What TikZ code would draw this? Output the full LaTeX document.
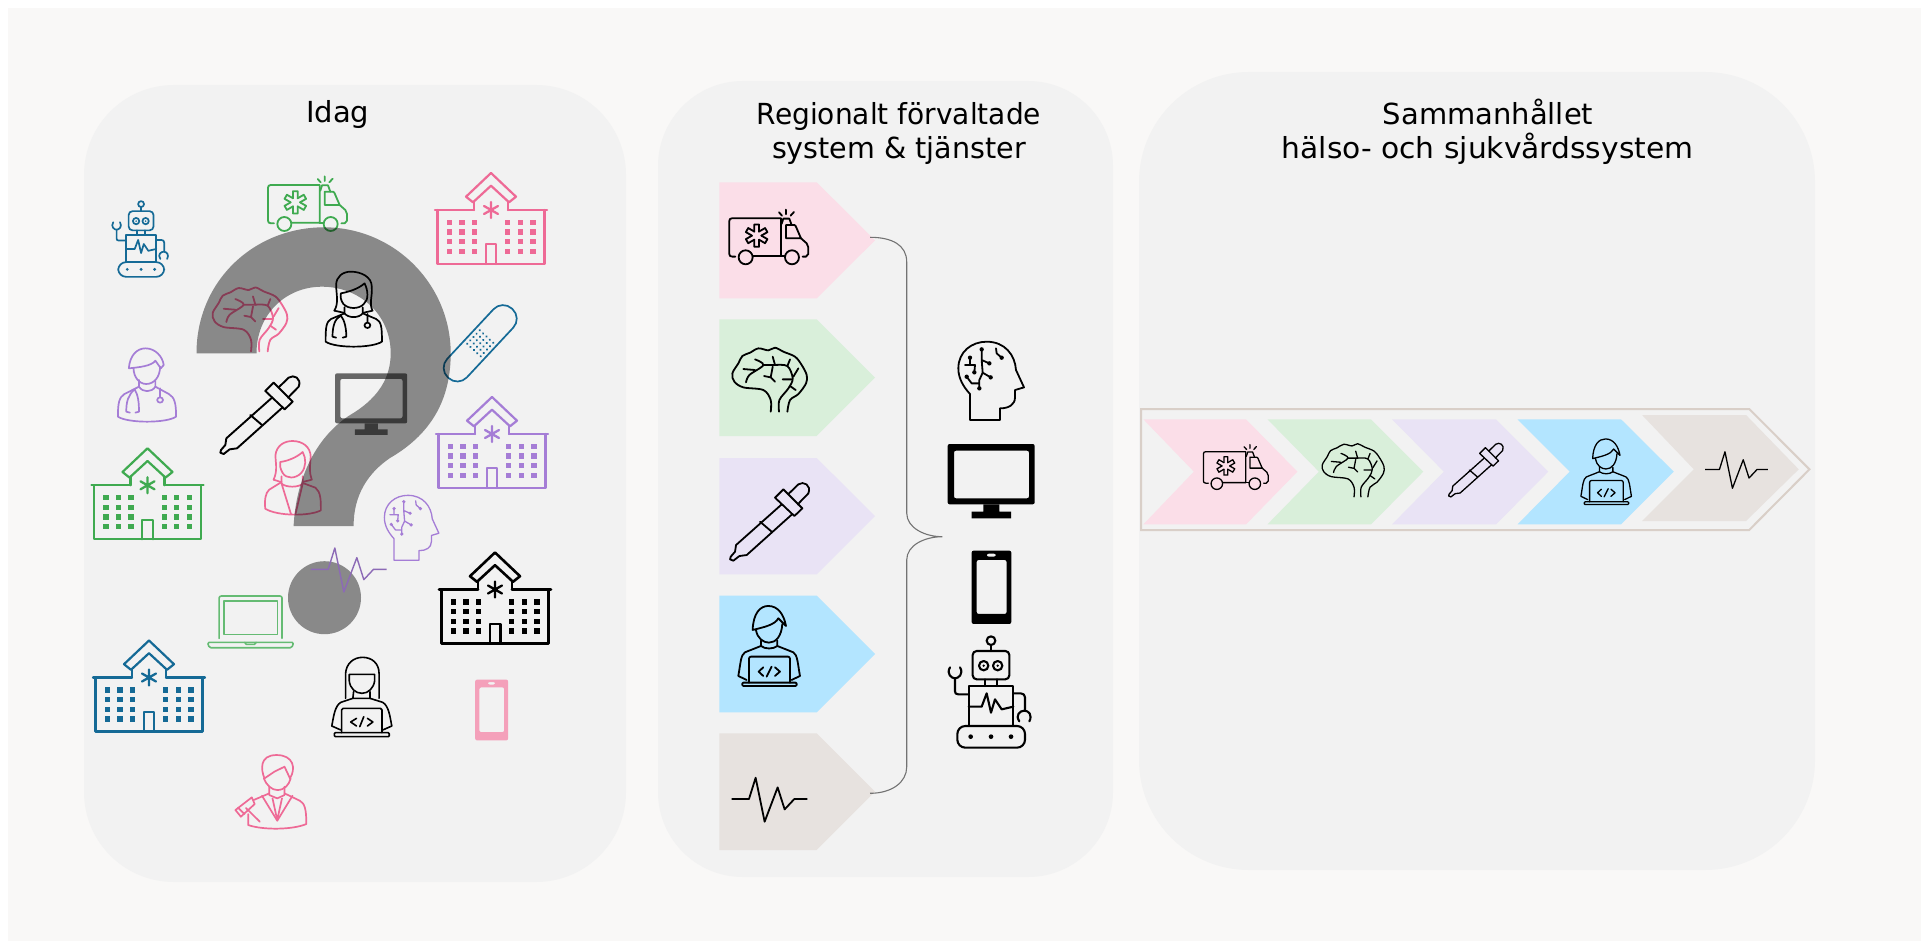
\documentclass[tikz,border=0pt]{standalone}
\usepackage{fontspec}
\setmainfont{DejaVu Sans}
\definecolor{pageBg}{HTML}{F9F8F7}
\definecolor{panelBg}{HTML}{F2F2F2}
\definecolor{cPink}{HTML}{EE6A96}
\definecolor{cGreen}{HTML}{3FAA50}
\definecolor{cPurple}{HTML}{A57DD6}
\definecolor{cBlue}{HTML}{156A96}
\definecolor{cPhone}{HTML}{F4A0BA}
\definecolor{chPink}{HTML}{FBDEE8}
\definecolor{chGreen}{HTML}{D9EFDA}
\definecolor{chPurple}{HTML}{E9E3F5}
\definecolor{chBlue}{HTML}{B3E5FF}
\definecolor{chGray}{HTML}{E7E2DF}
\definecolor{frameC}{HTML}{D9CFC8}
\tikzset{
  panel/.style={fill=panelBg,draw=none},
  title/.style={anchor=base,inner sep=0pt,font=\fontsize{29}{35}\selectfont,text=black},
}
% generic placer: body, cx, cy, xscale, yscale, colour, line width
\newcommand\placeicon[7]{%
  \begin{scope}[shift={(#2,#3)},xscale=#4,yscale=#5,color=#6,line width=#7pt,line join=round,line cap=round]#1\end{scope}}
\newcommand\threex[6]{\placeicon{#1}{#2}{#3}{#4/3}{#4/3}{#5}{#6}}
\newcommand\zoomx[6]{\placeicon{#1}{#2}{#3}{#4/2.75}{#4/3}{#5}{#6}}
\newcommand\starburst{%
  \foreach \a in {90,150,...,390}{\draw ({205-35+14*cos(\a-30)},{197-14*sin(\a-30)}) -- ({205-35+34*cos(\a-12)},{197-34*sin(\a-12)}) -- ({205-35+34*cos(\a+12)},{197-34*sin(\a+12)}) -- ({205-35+14*cos(\a+30)},{197-14*sin(\a+30)});}}
\newcommand\IcAmb{\begin{scope}[shift={(-205,-202)}]
  \draw (137,262) circle[radius=21];
  \draw (276,262) circle[radius=21];
  \draw (106,260) -- (97,260) .. controls (91,260) and (88,257) .. (88,252) -- (88,153) .. controls (88,148) and (91,145) .. (96,145) -- (243,145) -- (243,258) -- (160,258);
  \draw (243,258) -- (255,258);
  \draw (258,165) -- (258,205) -- (303,205) -- (287,168) -- (283,165) -- cycle;
  \draw (303,205) -- (320,220) -- (325,232) -- (325,252) -- (318,260) -- (308,260);
  \draw (245,162) -- (250,146) -- (268,146) -- (275,165);
  \draw (258,119) -- (258,133) (237,127) -- (246,137) (282,126) -- (272,137);
  \starburst
\end{scope}}
\newcommand\IcBrain{\begin{scope}[shift={(-209,-629)}]
  \draw plot[smooth,tension=.55] coordinates {(212,725) (212,690) (190,660) (130,652) (103,635) (97,610) (115,580) (127,558) (150,548) (175,535) (205,541) (225,533) (250,545) (285,560) (305,585) (320,615) (318,640) (295,672) (270,690) (262,725)};
  \draw plot[smooth,tension=.55] coordinates {(237,725) (238,690) (265,655) (278,625) (262,588) (225,585)};
  \draw plot[smooth,tension=.55] coordinates {(138,637) (148,615) (190,585) (165,568)};
  \draw (130,597) -- (165,600);
  \draw (190,585) -- (225,585) -- (218,560);
  \draw (262,588) -- (270,568) (192,618) -- (212,622) -- (225,635) (212,622) -- (218,590) (248,628) -- (275,628) (270,648) -- (287,660) (280,620) -- (295,595);
\end{scope}}
\newcommand\IcDrop{\begin{scope}[shift={(-209,-1055)}]
  \draw (225,983) -- (250,958) -- (307,1015) -- (283,1038) -- cycle;
  \draw (265,972) -- (295,943) .. controls (310,932) and (335,945) .. (325,970) -- (293,1003);
  \draw (245,1003) -- (108,1125) -- (105,1145) -- (92,1160) -- (90,1168) -- (100,1172) -- (118,1158) -- (140,1155) -- (277,1032);
  \draw (180,1055) -- (215,1085);
\end{scope}}
\newcommand\IcCoder{\begin{scope}[shift={(-208,-289)}]
  \draw (158,240) .. controls (160,190) and (180,168) .. (205,168) .. controls (235,168) and (252,195) .. (258,228) -- (235,205) .. controls (225,225) and (190,232) .. cycle;
  \draw (168,240) .. controls (172,265) and (190,278) .. (207,278) .. controls (228,278) and (245,258) .. (247,222);
  \draw (183,272) -- (183,288) .. controls (195,298) and (220,298) .. (232,288) -- (232,272);
  \draw (183,288) -- (135,307) .. controls (122,315) and (122,340) .. (115,378) -- (140,390);
  \draw (232,288) -- (280,307) .. controls (293,315) and (293,340) .. (300,378) -- (275,390);
  \draw[rounded corners=2pt] (147,398) -- (147,320) -- (270,320) -- (270,398);
  \draw[rounded corners=1pt] (127,398) rectangle (290,408);
  \draw (190,352) -- (176,365) -- (190,378) (225,352) -- (240,365) -- (225,378) (200,380) -- (215,350);
\end{scope}}
\newcommand\IcPulse{\begin{scope}[shift={(-208,-749)}]
  \draw[line cap=butt] (95,747) -- (147,747) -- (167,683) -- (194,815) -- (233,712) -- (254,778) -- (283,747) -- (322,747);
\end{scope}}
\newcommand\IcHead{\begin{scope}[shift={(-873,-632)}]
  \draw (810,750) -- (810,672) .. controls (790,650) and (775,625) .. (775,595) .. controls (775,545) and (815,515) .. (860,515) .. controls (915,515) and (945,555) .. (948,600) -- (972,652) -- (945,660) -- (945,682) .. controls (945,705) and (925,715) .. (900,715) -- (900,750) -- cycle;
  \draw (810,563) -- (810,585) (795,585) -- (825,585) -- (823,607) (845,538) -- (845,570) -- (868,580) (845,570) -- (848,608) -- (872,622) (848,608) -- (838,630) -- (838,655) (800,620) -- (815,640) -- (838,640) (888,535) -- (890,550) -- (905,563);
  \fill (810,563) circle[radius=6.5] (823,607) circle[radius=6.5] (845,538) circle[radius=6.5] (868,580) circle[radius=6.5] (872,622) circle[radius=6.5] (838,655) circle[radius=6.5] (800,620) circle[radius=6.5] (905,563) circle[radius=6.5];
\end{scope}}
\newcommand\IcMon{\begin{scope}[shift={(-873,-933)}]
  \fill[even odd rule,rounded corners=2pt] (743,822) rectangle (1004,1003) (762,842) rectangle (987,985);
  \fill (850,1003) rectangle (898,1025) (815,1025) rectangle (933,1045);
\end{scope}}
\newcommand\IcPhone{\begin{scope}[shift={(-874,-112)}]
  \fill[even odd rule] [rounded corners=2pt] (815,2) rectangle (934,222) (830,30) rectangle (920,192) (860,11) rectangle (888,20);
\end{scope}}
\newcommand\IcRobot{\begin{scope}[shift={(-870,-426)}]
  \draw (873,272) circle[radius=13];
  \draw (873,285) -- (873,303);
  \draw[rounded corners=4pt] (818,303) rectangle (928,388);
  \draw (851,347) circle[radius=14] (893,347) circle[radius=14];
  \fill (851,347) circle[radius=4] (893,347) circle[radius=4];
  \draw (855,388) -- (855,408) (890,388) -- (890,408);
  \draw (806,408) rectangle (940,528);
  \draw (806,470) -- (845,470) -- (860,430) -- (873,488) -- (885,448) -- (905,478) -- (940,470);
  \draw[rounded corners=8pt] (772,528) rectangle (975,593);
  \fill (812,560) circle[radius=7] (873,560) circle[radius=7] (933,560) circle[radius=7];
  \draw (806,433) -- (775,433) .. controls (768,433) and (765,430) .. (765,424) -- (765,385);
  \draw (750,352) .. controls (738,372) and (755,385) .. (765,385) .. controls (775,385) and (792,372) .. (780,352);
  \draw (940,430) -- (962,430) .. controls (970,430) and (975,435) .. (975,442) -- (975,482);
  \draw (958,514) .. controls (945,495) and (960,482) .. (973,482) .. controls (986,482) and (998,495) .. (988,514);
\end{scope}}
\newcommand\IcHosp{%
  \draw (-56,-8.5) -- (-17,-8.5) (17,-8.5) -- (56,-8.5);
  \draw (-53.5,-8.5) -- (-53.5,45.5) -- (53.5,45.5) -- (53.5,-8.5);
  \draw (0,-45.5) -- (25,-21.8) -- (18,-16.2) -- (0,-32.8) -- (-18,-16.2) -- (-25,-21.8) -- cycle;
  \draw (-17,-17) -- (-17,-8.5) (17,-17) -- (17,-8.5);
  \draw (-5.2,45.5) -- (-5.2,25.8) -- (5.2,25.8) -- (5.2,45.5);
  \draw[line width=2.3pt] (0,-16.5) -- (0,-0.5) (-7,-12.5) -- (7,-4.5) (7,-12.5) -- (-7,-4.5);
  \foreach \wx in {-41.5,-28.9,-16.4,16.7,29.2,41.8}{\foreach \wy in {3.8,13.5,23.2,32.8}{\fill (\wx-2.7,\wy-2.7) rectangle (\wx+2.7,\wy+2.7);}}}
\newcommand\IcDoc{\begin{scope}[shift={(-780,-717)}]
  \draw (727,722) .. controls (740,700) and (732,670) .. (732,645) .. controls (732,620) and (750,605) .. (772,605) .. controls (800,605) and (830,620) .. (830,650) .. controls (832,680) and (822,700) .. (832,722) -- (808,728);
  \draw (727,722) -- (752,728);
  \draw (745,670) .. controls (770,665) and (795,655) .. (810,640) .. controls (820,660) and (822,690) .. (808,702) .. controls (795,718) and (765,718) .. (752,702) .. controls (745,692) and (743,680) .. (745,670);
  \draw (755,712) -- (755,730) .. controls (765,745) and (795,745) .. (805,730) -- (805,712);
  \draw (755,730) -- (718,747) .. controls (705,755) and (703,770) .. (703,815) .. controls (730,835) and (830,835) .. (858,815) .. controls (858,770) and (856,755) .. (842,747) -- (805,730);
  \draw (745,737) .. controls (730,745) and (722,765) .. (722,800) -- (732,803);
  \draw (745,737) .. controls (755,750) and (760,775) .. (760,800) -- (750,803);
  \draw (818,732) -- (818,758) (818,766) circle[radius=8];
\end{scope}}
\newcommand\IcMaleDoc{\begin{scope}[shift={(-212,-945)}]
  \draw (162,895) .. controls (165,855) and (185,835) .. (208,835) .. controls (235,835) and (255,860) .. (258,885) -- (250,895) -- (235,872) .. controls (225,888) and (190,892) .. cycle;
  \draw (175,895) .. controls (175,920) and (190,942) .. (210,942) .. controls (232,942) and (248,920) .. (248,890);
  \draw (190,930) -- (190,950) .. controls (200,968) and (225,968) .. (235,950) -- (235,930);
  \draw (190,950) -- (150,972) .. controls (135,982) and (132,1000) .. (132,1040) .. controls (160,1060) and (265,1060) .. (292,1040) .. controls (292,1000) and (288,982) .. (272,972) -- (235,950);
  \draw (178,958) .. controls (160,975) and (155,995) .. (155,1025) -- (165,1028);
  \draw (178,958) .. controls (188,975) and (190,1000) .. (190,1025) -- (180,1028);
  \draw (248,955) -- (248,982) (248,990) circle[radius=8];
\end{scope}}
\newcommand\IcWoman{\begin{scope}[shift={(-612,-1223)}]
  \draw (560,1228) .. controls (572,1200) and (565,1175) .. (565,1155) .. controls (568,1125) and (590,1112) .. (612,1112) .. controls (640,1112) and (662,1130) .. (662,1160) .. controls (660,1185) and (658,1210) .. (665,1228) -- (640,1235);
  \draw (560,1228) -- (580,1235);
  \draw (578,1175) .. controls (600,1172) and (625,1160) .. (640,1145) .. controls (650,1165) and (650,1190) .. (636,1208) .. controls (620,1226) and (595,1226) .. (585,1208) .. controls (578,1195) and (577,1185) .. (578,1175);
  \draw (582,1218) -- (582,1240) .. controls (595,1252) and (628,1252) .. (640,1240) -- (640,1218);
  \draw (582,1235) -- (548,1258) .. controls (537,1268) and (535,1290) .. (537,1315) .. controls (570,1338) and (660,1338) .. (690,1320) .. controls (690,1290) and (690,1265) .. (675,1252) -- (640,1238);
  \draw (582,1240) -- (608,1332) (640,1240) -- (620,1332);
\end{scope}}
\newcommand\IcLaptop{\begin{scope}[shift={(-496,-515)}]
  \draw[rounded corners=2pt] (410,565) -- (410,438) -- (583,438) -- (583,565);
  \draw (423,453) rectangle (570,553);
  \draw[rounded corners=1.5pt] (378,577) -- (615,577) -- (610,593) -- (383,593) -- cycle;
  \draw (480,577) -- (485,583) -- (507,583) -- (512,577);
\end{scope}}
\newcommand\IcFCoder{\begin{scope}[shift={(-802,-741)}]
  \draw (758,745) -- (758,670) .. controls (760,640) and (780,622) .. (805,622) .. controls (830,622) and (850,640) .. (850,670) -- (850,745);
  \draw (768,673) -- (838,673) -- (838,692) .. controls (835,715) and (820,730) .. (803,730) .. controls (785,730) and (770,715) .. (768,692) -- cycle;
  \draw (780,725) -- (778,745) -- (825,745) -- (825,725);
  \draw (778,745) -- (745,757) .. controls (728,768) and (725,800) .. (720,828) -- (745,840);
  \draw (825,745) -- (860,757) .. controls (877,768) and (880,800) .. (885,828) -- (860,840);
  \draw[rounded corners=1.5pt] (747,848) -- (747,775) -- (858,775) -- (858,848);
  \draw[rounded corners=1pt] (727,848) rectangle (878,860);
  \draw (788,805) -- (772,816) -- (788,828) (818,805) -- (833,816) -- (818,828) (797,830) -- (808,800);
\end{scope}}
\newcommand\IcJudge{\begin{scope}[shift={(-552,-1025)}]
  \draw (535,985) .. controls (525,960) and (520,915) .. (568,915) .. controls (615,915) and (622,955) .. (605,985) -- (590,950) -- (562,965) -- cycle;
  \draw (533,985) .. controls (540,1005) and (555,1020) .. (570,1020) .. controls (590,1020) and (602,1005) .. (607,985);
  \draw (548,1010) -- (548,1035) (590,1010) -- (590,1035) (548,1035) -- (570,1045) -- (590,1035);
  \draw (528,1037) -- (570,1112) -- (612,1037);
  \draw (557,1045) -- (570,1110) -- (583,1045);
  \draw (548,1030) -- (505,1050);
  \draw (590,1030) -- (632,1052) .. controls (645,1060) and (650,1075) .. (650,1122) .. controls (610,1140) and (530,1140) .. (490,1125) -- (490,1092);
  \draw (455,1080) -- (500,1042) -- (508,1062) -- (470,1100) -- cycle;
  \draw (462,1073) -- (480,1092);
  \draw (484,1074) -- (522,1115);
\end{scope}}
\newcommand\chevron[3]{% colour, top, bottom
  \fill[#1] (719.3,#2) -- (816.7,#2) -- (875,{(#2+#3)/2}) -- (816.7,#3) -- (719.3,#3) -- cycle;}
\begin{document}
\begin{tikzpicture}[x=1pt,y=-1pt]
\useasboundingbox (0,0) rectangle (1921,941);
\fill[white] (0,0) rectangle (1921,941);
\fill[pageBg] (8,8) rectangle (1921,941);
% panels
\fill[panel,rounded corners=90pt] (84,85) rectangle (626,882);
\fill[panel,rounded corners=85pt] (658,81) rectangle (1113,877);
\fill[panel,rounded corners=110pt] (1139,72) rectangle (1815,870);
% titles
\node[title] (tIdag) at (337.7,123) {Idag};
\node[title] (tReg1) at (899,125) {\scalebox{.967}[1]{Regionalt förvaltade}};
\node[title] (tReg2) at (899,158.5) {\scalebox{.985}[1]{system \& tjänster}};
\node[title] (tSam1) at (1488,125) {Sammanhållet};
\node[title] (tSam2) at (1487.5,158.5) {\scalebox{1.025}[1]{hälso- och sjukvårdssystem}};
% --- panel 1 icons
\threex{\IcRobot}{140.4}{239}{.68}{cBlue}{1.7}
\threex{\IcAmb}{307}{204}{1}{cGreen}{1.8}
\placeicon{\IcHosp}{491}{218.5}{1}{1}{cPink}{2.2}
\threex{\IcBrain}{250}{319.4}{1}{cPink}{1.8}
\zoomx{\IcDoc}{353.6}{309}{1}{black}{1.7}
\zoomx{\IcMaleDoc}{147}{385}{1}{cPurple}{1.7}
\threex{\IcDrop}{260}{415}{1}{black}{1.9}
\threex{\IcMon}{371}{404}{.83}{black!58!panelBg}{1}
\placeicon{\IcHosp}{492}{442.5}{1}{1}{cPurple}{2.2}
\placeicon{\IcHosp}{147.5}{493.8}{1}{1}{cGreen}{2.2}
\zoomx{\IcWoman}{292.5}{478}{1}{cPink}{1.7}
\begin{scope}[shift={(480.2,343.3)},rotate=47]
  \draw[cBlue,line width=1.7pt,rounded corners=13pt] (-47,-13.5) rectangle (47,13.5);
  \foreach \i in {-2,...,2}{\foreach \j in {-2,...,2}{\fill[cBlue] (\i*4.6,\j*4.6) circle[radius=1.2];}}
\end{scope}
% question mark
\fill[black,fill opacity=.43] (196.5,353.3) .. controls (196.5,280) and (255,227.3) .. (324,227.3) .. controls (395,227.3) and (450.7,285) .. (450.7,353.3) .. controls (450.7,395) and (435,432) .. (390,458) .. controls (368,473) and (353.6,495) .. (353.6,526) -- (293.6,526) .. controls (296,480) and (315,435) .. (355,412) .. controls (378,397) and (390.7,378) .. (390.7,353.3) .. controls (390.7,315) and (360,286.7) .. (322,286.7) .. controls (285,286.7) and (256.5,315) .. (256.5,353.3) -- cycle;
\fill[black,fill opacity=.43] (324.5,597.7) circle[radius=36.5];
\threex{\IcHead}{411.5}{527.7}{.83}{cPurple}{1.3}
\threex{\IcPulse}{348.5}{570}{1}{cPurple!85!black}{1.4}
\zoomx{\IcLaptop}{250.4}{621.7}{1}{cGreen!80!white}{1.6}
\placeicon{\IcHosp}{495}{598}{1}{1}{black}{2.6}
\placeicon{\IcHosp}{149}{686}{1}{1}{cBlue}{2.2}
\zoomx{\IcFCoder}{361.6}{697}{1}{black}{1.6}
\threex{\IcPhone}{491.5}{710}{.83}{cPhone}{1}
\zoomx{\IcJudge}{270.7}{791.7}{1}{cPink}{1.7}
% --- panel 2
\chevron{chPink}{182.3}{298.3}
\chevron{chGreen}{319.3}{436}
\chevron{chPurple}{458}{574.3}
\chevron{chBlue}{595.7}{712.3}
\chevron{chGray}{733.3}{850}
\threex{\IcAmb}{768.3}{237.3}{1}{black}{1.8}
\threex{\IcBrain}{769.7}{379.7}{1}{black}{1.8}
\threex{\IcDrop}{769.7}{521.7}{1}{black}{1.8}
\threex{\IcCoder}{769.3}{646.3}{1}{black}{1.8}
\threex{\IcPulse}{769.3}{799.7}{1}{black}{1.8}
\threex{\IcHead}{991}{380.7}{1}{black}{1.8}
\threex{\IcMon}{991}{481}{1}{black}{1}
\threex{\IcPhone}{991.3}{587.3}{1}{black}{1}
\threex{\IcRobot}{990}{692}{1}{black}{2.1}
% brace
\coordinate (bTop) at (870,237.3);
\coordinate (bMid) at (942.3,536.7);
\coordinate (bBot) at (870,793.3);
\draw[color=black!55,line width=1.1pt] (bTop) .. controls (892,237.3) and (906.7,245) .. (906.7,262) -- (906.7,513) .. controls (906.7,528) and (925,536.7) .. (bMid) .. controls (925,536.7) and (906.7,545) .. (906.7,560) -- (906.7,767) .. controls (906.7,782) and (892,793.3) .. (bBot);
% --- panel 3 arrow row
\begin{scope}[shift={(1130,390)},xscale=1/2.24,yscale=1/3]
  \draw[frameC,line width=2pt,line join=miter] (25,57) -- (1387,57) -- (1522,238) -- (1387,420) -- (25,420) -- cycle;
  \fill[chPink] (30,88) -- (260,88) -- (375,245) -- (260,403) -- (30,403) -- (143,245) -- cycle;
  \fill[chGreen] (308,88) -- (540,88) -- (657,245) -- (540,403) -- (308,403) -- (423,245) -- cycle;
  \fill[chPurple] (587,88) -- (820,88) -- (937,245) -- (820,403) -- (587,403) -- (703,245) -- cycle;
  \fill[chBlue] (868,88) -- (1100,88) -- (1218,245) -- (1100,403) -- (868,403) -- (985,245) -- cycle;
  \fill[chGray] (1147,75) -- (1380,75) -- (1498,238) -- (1380,393) -- (1147,393) -- (1263,238) -- cycle;
\end{scope}
\threex{\IcAmb}{1235.4}{467.3}{.82}{black}{1.3}
\threex{\IcBrain}{1353.2}{470.3}{.83}{black}{1.3}
\threex{\IcDrop}{1476}{470}{.69}{black}{1.3}
\threex{\IcCoder}{1606.3}{472}{.82}{black}{1.3}
\threex{\IcPulse}{1736.3}{470}{.83}{black}{1.3}
\end{tikzpicture}
\end{document}
